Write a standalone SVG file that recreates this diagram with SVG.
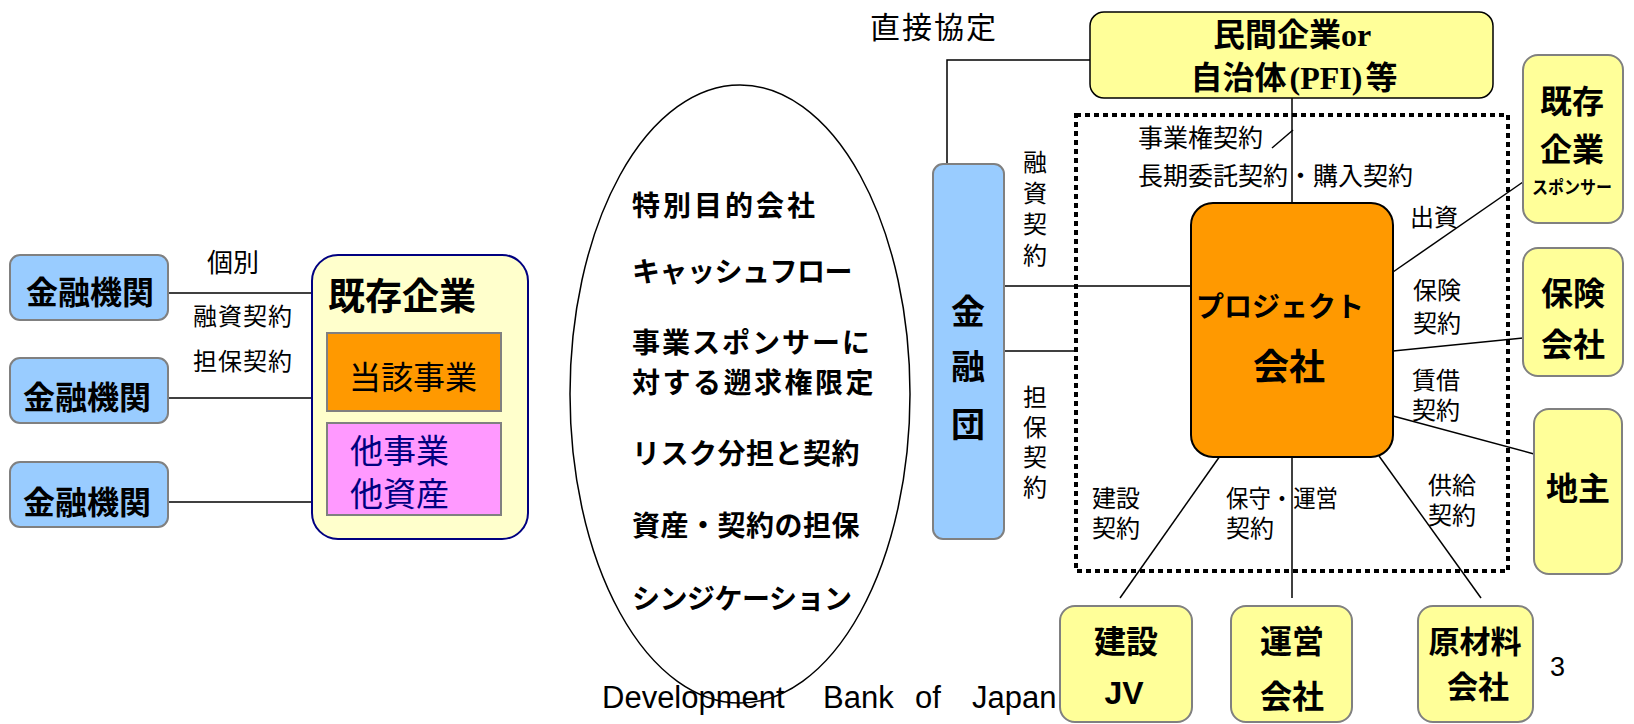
<svg xmlns="http://www.w3.org/2000/svg" width="1634" height="724" viewBox="0 0 1634 724">
<style>
text { font-family: "Noto Sans CJK JP", "Liberation Sans", sans-serif; fill: #000; }
.b { font-weight: bold; }
.blue { fill: #99ccff; stroke: #808080; stroke-width: 2; }
.yel { fill: #ffff99; stroke: #808080; stroke-width: 2; }
.ln { stroke: #000; stroke-width: 1.5; fill: none; }
.lbl { font-size: 24px; }
.two { font-family: "Liberation Sans", "Noto Sans CJK JP", sans-serif; }
.mid { text-anchor: middle; }
.vert { writing-mode: vertical-rl; font-size: 24px; }
.serif { font-family: "Liberation Serif", serif; }
.lat { font-family: "Liberation Sans", sans-serif; }
</style>
<rect width="1634" height="724" fill="#fff"/>

<g id="connectors">
  <line class="ln" x1="168" y1="293" x2="312" y2="293"/>
  <line class="ln" x1="168" y1="398" x2="312" y2="398"/>
  <line class="ln" x1="168" y1="502" x2="312" y2="502"/>
  <polyline class="ln" points="1090,60 947,60 947,164"/>
  <line class="ln" x1="1004" y1="286" x2="1191" y2="286"/>
  <line class="ln" x1="1004" y1="351" x2="1076" y2="351"/>
  <line class="ln" x1="1292" y1="98" x2="1292" y2="203"/>
  <line class="ln" x1="1272" y1="148" x2="1293" y2="130"/>
  <line class="ln" x1="1393" y1="272" x2="1523" y2="182"/>
  <line class="ln" x1="1393" y1="351" x2="1523" y2="338"/>
  <line class="ln" x1="1393" y1="416" x2="1534" y2="454"/>
  <line class="ln" x1="1220" y1="456" x2="1120" y2="598"/>
  <line class="ln" x1="1292" y1="456" x2="1292" y2="598"/>
  <line class="ln" x1="1379" y1="456" x2="1481" y2="598"/>
</g>

<g id="boundary">
  <rect x="1076" y="115" width="432" height="456" fill="none" stroke="#000" stroke-width="4" stroke-dasharray="5 4"/>
</g>

<g id="labels">
  <text x="207" y="272" font-size="26">個別</text>
  <text x="193" y="325" class="lbl" letter-spacing="1">融資契約</text>
  <text x="193" y="370" class="lbl" letter-spacing="1">担保契約</text>
  <text x="870" y="38" font-size="30" letter-spacing="2">直接協定</text>
  <text x="1035" y="150" class="vert" letter-spacing="7">融資契約</text>
  <text x="1035" y="385" class="vert" letter-spacing="6">担保契約</text>
  <text x="1138" y="147" font-size="25">事業権契約</text>
  <text x="1138" y="185" font-size="25">長期委託契約・購入契約</text>
  <text x="1410" y="226" class="lbl">出資</text>
  <text x="1413" y="299" class="lbl two">保険</text>
  <text x="1413" y="332" class="lbl two">契約</text>
  <text x="1412" y="389" class="lbl two">賃借</text>
  <text x="1412" y="419" class="lbl two">契約</text>
  <text x="1092" y="507" class="lbl two">建設</text>
  <text x="1092" y="537" class="lbl two">契約</text>
  <text x="1226" y="507" class="lbl two" textLength="112" lengthAdjust="spacingAndGlyphs">保守・運営</text>
  <text x="1226" y="537" class="lbl two">契約</text>
  <text x="1428" y="494" class="lbl two">供給</text>
  <text x="1428" y="524" class="lbl two">契約</text>
</g>

<g id="kinyu1">
  <rect class="blue" x="10" y="255" width="158" height="65" rx="10"/>
  <text class="b mid" x="90" y="304" font-size="32">金融機関</text>
</g>
<g id="kinyu2">
  <rect class="blue" x="10" y="358" width="158" height="65" rx="10"/>
  <text class="b mid" x="87" y="409" font-size="32">金融機関</text>
</g>
<g id="kinyu3">
  <rect class="blue" x="10" y="462" width="158" height="65" rx="10"/>
  <text class="b mid" x="87" y="514" font-size="32">金融機関</text>
</g>

<g id="kizon-kigyo">
  <rect x="312" y="255" width="216" height="284" rx="26" fill="#ffffcc" stroke="#000080" stroke-width="2"/>
  <text class="b" x="328" y="310" font-size="37">既存企業</text>
</g>
<g id="tougai-jigyo">
  <rect x="327" y="333" width="174" height="78" fill="#ff9900" stroke="#808080" stroke-width="2"/>
  <text class="mid" x="413" y="389" font-size="32">当該事業</text>
</g>
<g id="ta-jigyo">
  <rect x="327" y="423" width="174" height="92" fill="#ff99ff" stroke="#808080" stroke-width="2"/>
  <text class="two" x="350" y="463" font-size="33" style="fill:#000080">他事業</text>
  <text class="two" x="350" y="506" font-size="33" style="fill:#000080">他資産</text>
</g>

<g id="ellipse">
  <ellipse cx="740" cy="394" rx="170" ry="309" fill="none" stroke="#000" stroke-width="1.5"/>
  <text class="b" x="632" y="216" font-size="28" letter-spacing="3">特別目的会社</text>
  <text class="b" x="632" y="282" font-size="28" letter-spacing="-0.5">キャッシュフロー</text>
  <text class="b" x="632" y="353" font-size="28" letter-spacing="2">事業スポンサーに</text>
  <text class="b" x="632" y="393" font-size="28" letter-spacing="2.5">対する遡求権限定</text>
  <text class="b" x="632" y="464" font-size="28" letter-spacing="0.5">リスク分担と契約</text>
  <text class="b" x="632" y="536" font-size="28" letter-spacing="0.5">資産・契約の担保</text>
  <text class="b" x="632" y="609" font-size="28" letter-spacing="-0.5">シンジケーション</text>
</g>

<g id="footer">
  <text class="lat" x="602" y="708" font-size="31">Development<tspan x="823">Bank</tspan><tspan x="915">of</tspan><tspan x="972">Japan</tspan></text>
  <text class="lat" x="1550" y="676" font-size="27">3</text>
</g>

<g id="minkan">
  <rect x="1090" y="12" width="403" height="86" rx="14" fill="#ffff99" stroke="#000" stroke-width="1.5"/>
  <text class="b mid" x="1292" y="46" font-size="32">民間企業<tspan class="serif">or</tspan></text>
  <text class="b mid" x="1294" y="89" font-size="32">自治体<tspan class="serif" dx="3">(PFI)</tspan><tspan dx="3">等</tspan></text>
</g>

<g id="kinyudan">
  <rect class="blue" x="933" y="164" width="71" height="375" rx="10"/>
  <text class="b mid" x="968" y="324" font-size="34">金<tspan x="968" dy="55">融</tspan><tspan x="968" dy="58">団</tspan></text>
</g>

<g id="project">
  <rect x="1191" y="203" width="202" height="254" rx="22" fill="#ff9900" stroke="#000" stroke-width="2"/>
  <text class="b mid" x="1280" y="317" font-size="28">プロジェクト</text>
  <text class="b mid" x="1289" y="380" font-size="36">会社</text>
</g>

<g id="sponsor">
  <rect class="yel" x="1523" y="55" width="100" height="168" rx="15"/>
  <text class="b mid" x="1572" y="113" font-size="32">既存<tspan x="1572" dy="48">企業</tspan></text>
  <text class="b mid" x="1572" y="194" font-size="18" textLength="80" lengthAdjust="spacingAndGlyphs">スポンサー</text>
</g>
<g id="hoken">
  <rect class="yel" x="1523" y="248" width="100" height="128" rx="15"/>
  <text class="b mid" x="1573" y="305" font-size="32">保険<tspan x="1573" dy="51">会社</tspan></text>
</g>
<g id="jinushi">
  <rect class="yel" x="1534" y="409" width="88" height="165" rx="15"/>
  <text class="b mid" x="1578" y="500" font-size="32">地主</text>
</g>
<g id="kensetsu">
  <rect class="yel" x="1060" y="606" width="132" height="116" rx="15"/>
  <text class="b mid" x="1126" y="653" font-size="32">建設</text>
  <text class="b mid lat" x="1124" y="704" font-size="32">JV</text>
</g>
<g id="unei">
  <rect class="yel" x="1231" y="606" width="121" height="116" rx="15"/>
  <text class="b mid" x="1292" y="653" font-size="32">運営<tspan x="1292" dy="55">会社</tspan></text>
</g>
<g id="genzairyo">
  <rect class="yel" x="1418" y="606" width="115" height="116" rx="15"/>
  <text class="b mid" x="1475" y="653" font-size="31">原材料<tspan x="1478" dy="45">会社</tspan></text>
</g>
</svg>
